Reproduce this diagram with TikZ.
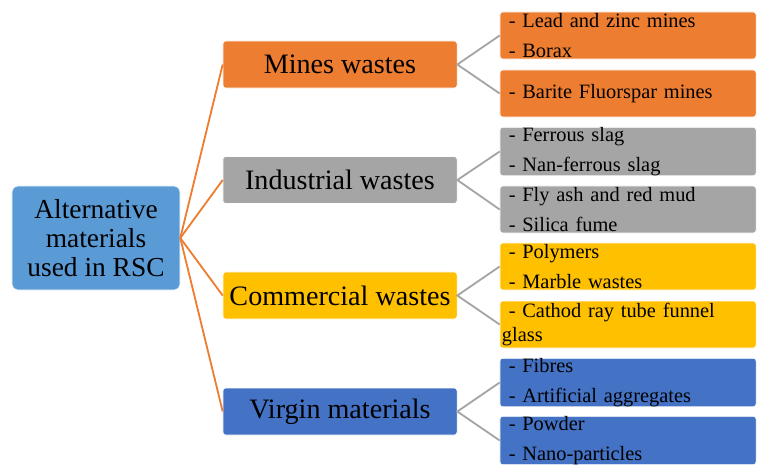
\documentclass[tikz,border=0pt]{standalone}
\usepackage{fontspec}
\setmainfont{Liberation Serif}
\usepackage{xcolor}
\usetikzlibrary{positioning}
\definecolor{rootblue}{RGB}{91,155,213}
\definecolor{mineorange}{RGB}{237,125,49}
\definecolor{indgray}{RGB}{165,165,165}
\definecolor{comgold}{RGB}{255,192,0}
\definecolor{virblue}{RGB}{68,114,196}

\begin{document}
\begin{tikzpicture}[x=0.025cm, y=-0.025cm,
  catbox/.style={draw=white, thin, rounded corners=2pt, minimum width=5.85cm, minimum height=1.175cm, inner sep=0pt, font=\fontsize{20}{21}\selectfont},
  itembox/.style={draw=white, thin, rounded corners=2pt, minimum width=6.4cm, minimum height=1.175cm, text width=6.3cm, inner xsep=1pt, inner ysep=0pt, align=left, font=\fontsize{14.5}{21.3}\selectfont},
  rootlink/.style={mineorange, line width=1.3pt},
  itemlink/.style={indgray, line width=1.3pt}]
  \useasboundingbox (0,0) rectangle (768,474);
  % root
  \node[draw=white, thin, rounded corners=4pt, fill=rootblue, minimum width=4.2cm, minimum height=2.6cm, align=center, inner sep=0pt, font=\fontsize{19.5}{20.6}\selectfont] (root) at (96,238) {Alternative\\materials\\used in RSC};
  % categories
  \node[catbox, fill=mineorange] (mines) at (340,64.5) {Mines wastes};
  \node[catbox, fill=indgray] (ind) at (340,180) {Industrial wastes};
  \node[catbox, fill=comgold] (com) at (340,295.5) {Commercial wastes};
  \node[catbox, fill=virblue] (vir) at (340,411.5) {Virgin materials};
  % items
  \node[itembox, fill=mineorange] (m1) at (628,35.5) {~- Lead and zinc mines\\~- Borax};
  \node[itembox, fill=mineorange] (m2) at (628,93.5) {~- Barite Fluorspar mines};
  \node[itembox, fill=indgray] (i1) at (628,151.5) {~- Ferrous slag\\~- Nan-ferrous slag};
  \node[itembox, fill=indgray] (i2) at (628,209.5) {~- Fly ash and red mud\\~- Silica fume};
  \node[itembox, fill=comgold] (c1) at (628,266.5) {~- Polymers\\~- Marble wastes};
  \node[itembox, fill=comgold, font=\fontsize{14.5}{16.5}\selectfont] (c2) at (628,324.5) {~- Cathod ray tube funnel\\glass};
  \node[itembox, fill=virblue] (v1) at (628,382.5) {~- Fibres\\~- Artificial aggregates};
  \node[itembox, fill=virblue] (v2) at (628,440.5) {~- Powder\\~- Nano-particles};
  % links
  \draw[rootlink] (root.east) -- (mines.west);
  \draw[rootlink] (root.east) -- (ind.west);
  \draw[rootlink] (root.east) -- (com.west);
  \draw[rootlink] (root.east) -- (vir.west);
  \draw[itemlink] (m1.west) -- (mines.east) -- (m2.west);
  \draw[itemlink] (i1.west) -- (ind.east) -- (i2.west);
  \draw[itemlink] (c1.west) -- (com.east) -- (c2.west);
  \draw[itemlink] (v1.west) -- (vir.east) -- (v2.west);
\end{tikzpicture}
\end{document}
